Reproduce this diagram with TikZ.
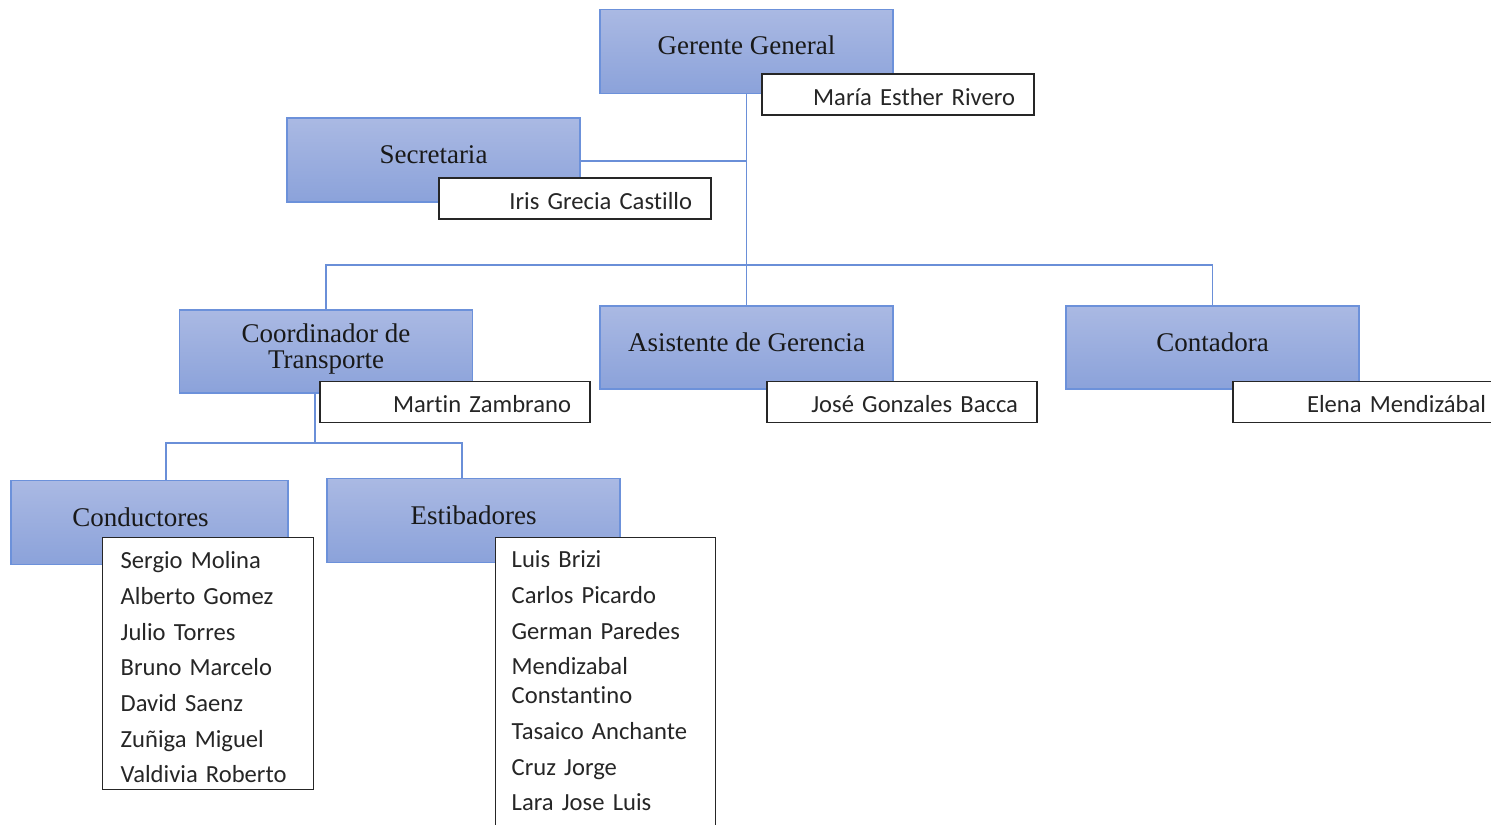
\documentclass[tikz,border=0pt]{standalone}
\usepackage{fontspec}
\setmainfont{Liberation Serif}
\newfontfamily\namefont[Ligatures={NoCommon}]{Carlito}
\usepackage{tikz}
\usetikzlibrary{positioning,calc}
\definecolor{cboxtop}{HTML}{AAB9E3}
\definecolor{cboxbot}{HTML}{8BA2DA}
\definecolor{cedge}{HTML}{6C91DA}
\definecolor{cline}{HTML}{6A8FD8}
\definecolor{cname}{HTML}{262626}
\tikzset{
  role/.style={draw=cedge, line width=0.9pt, top color=cboxtop, bottom color=cboxbot, minimum width=146.5pt, minimum height=42pt, inner sep=0pt, align=center, text=black!90, font=\fontsize{13.5}{13}\selectfont},
  title/.style={role, text height=9pt, text depth=5.5pt},
  namebox/.style={draw=cname, line width=0.7pt, fill=white, minimum height=20.5pt, text width=117pt, inner xsep=9.5pt, inner ysep=0pt, text height=11pt, text depth=0.5pt, align=right, text=cname, font=\namefont\fontsize{12.3}{14.5}\selectfont},
  listbox/.style={draw=cname, line width=0.7pt, fill=white, anchor=north west, inner xsep=9pt, inner ysep=0pt, align=left, text=cname, font=\namefont\fontsize{12.3}{14.5}\selectfont},
  link/.style={draw=cline, line width=0.8pt},
}
\begin{document}
\begin{tikzpicture}[x=0.5pt,y=-0.5pt]
\useasboundingbox (0,0) rectangle (1491,824);
\clip (0,0) rectangle (1491,824);
% roles
\node[title] (gg) at (746.5,51.5) {Gerente General};
\node[title] (sec) at (433.5,160) {Secretaria};
\node[role, minimum height=41.5pt, text depth=5pt] (coord) at (326,351.5) {Coordinador de\\Transporte};
\node[title, minimum height=41.5pt] (asis) at (746.5,347.5) {Asistente de Gerencia};
\node[title, minimum height=41.5pt] (cont) at (1212.5,347.5) {Contadora};
\node[title, minimum width=138.5pt] (cond) at (149.5,522.5) {Conductores\hspace*{9pt}};
\node[title] (estib) at (473.5,520.5) {Estibadores};
% connectors
\coordinate (bus) at (746.5,265);
\coordinate (sub) at (315,443);
\draw[link] (gg.south) -- (asis.north);
\draw[link] ([yshift=-0.5pt]sec.east) -- ([yshift=-0.5pt]sec.east -| gg.south);
\draw[link] (coord.north) |- (bus -| cont.north) -- (cont.north);
\draw[link] ([xshift=-5.5pt]coord.south) -- (sub);
\draw[link] ([xshift=8.25pt]cond.north) |- (sub) -| ([xshift=-5.75pt]estib.north);
% names
\node[namebox] (maria) at (898,94.5) {María Esther Rivero};
\node[namebox] (iris) at (575,198.5) {Iris Grecia Castillo};
\node[namebox, text width=116pt] (martin) at (455,402) {Martin Zambrano};
\node[namebox, text width=116pt] (jose) at (902,402) {José Gonzales Bacca};
\node[namebox] (elena) at (1369,402) {Elena Mendizábal};
% staff lists
\node[listbox, text width=87.5pt, text height=15.5pt, text depth=110.5pt] (condlist) at (102,537)
  {Sergio Molina\\[3.33pt] Alberto Gomez\\[3.33pt] Julio Torres\\[3.33pt] Bruno Marcelo\\[3.33pt] David Saenz\\[3.33pt] Zuñiga Miguel\\[3.33pt] Valdivia Roberto};
\node[listbox, inner xsep=8pt, text width=94pt, text height=15pt, text depth=131.5pt] (estlist) at (495,537)
  {Luis Brizi\\[3.33pt] Carlos Picardo\\[3.33pt] German Paredes\\[3.33pt] Mendizabal\\ Constantino\\[3.33pt] Tasaico Anchante\\[3.33pt] Cruz Jorge\\[3.33pt] Lara Jose Luis};
\end{tikzpicture}
\end{document}
